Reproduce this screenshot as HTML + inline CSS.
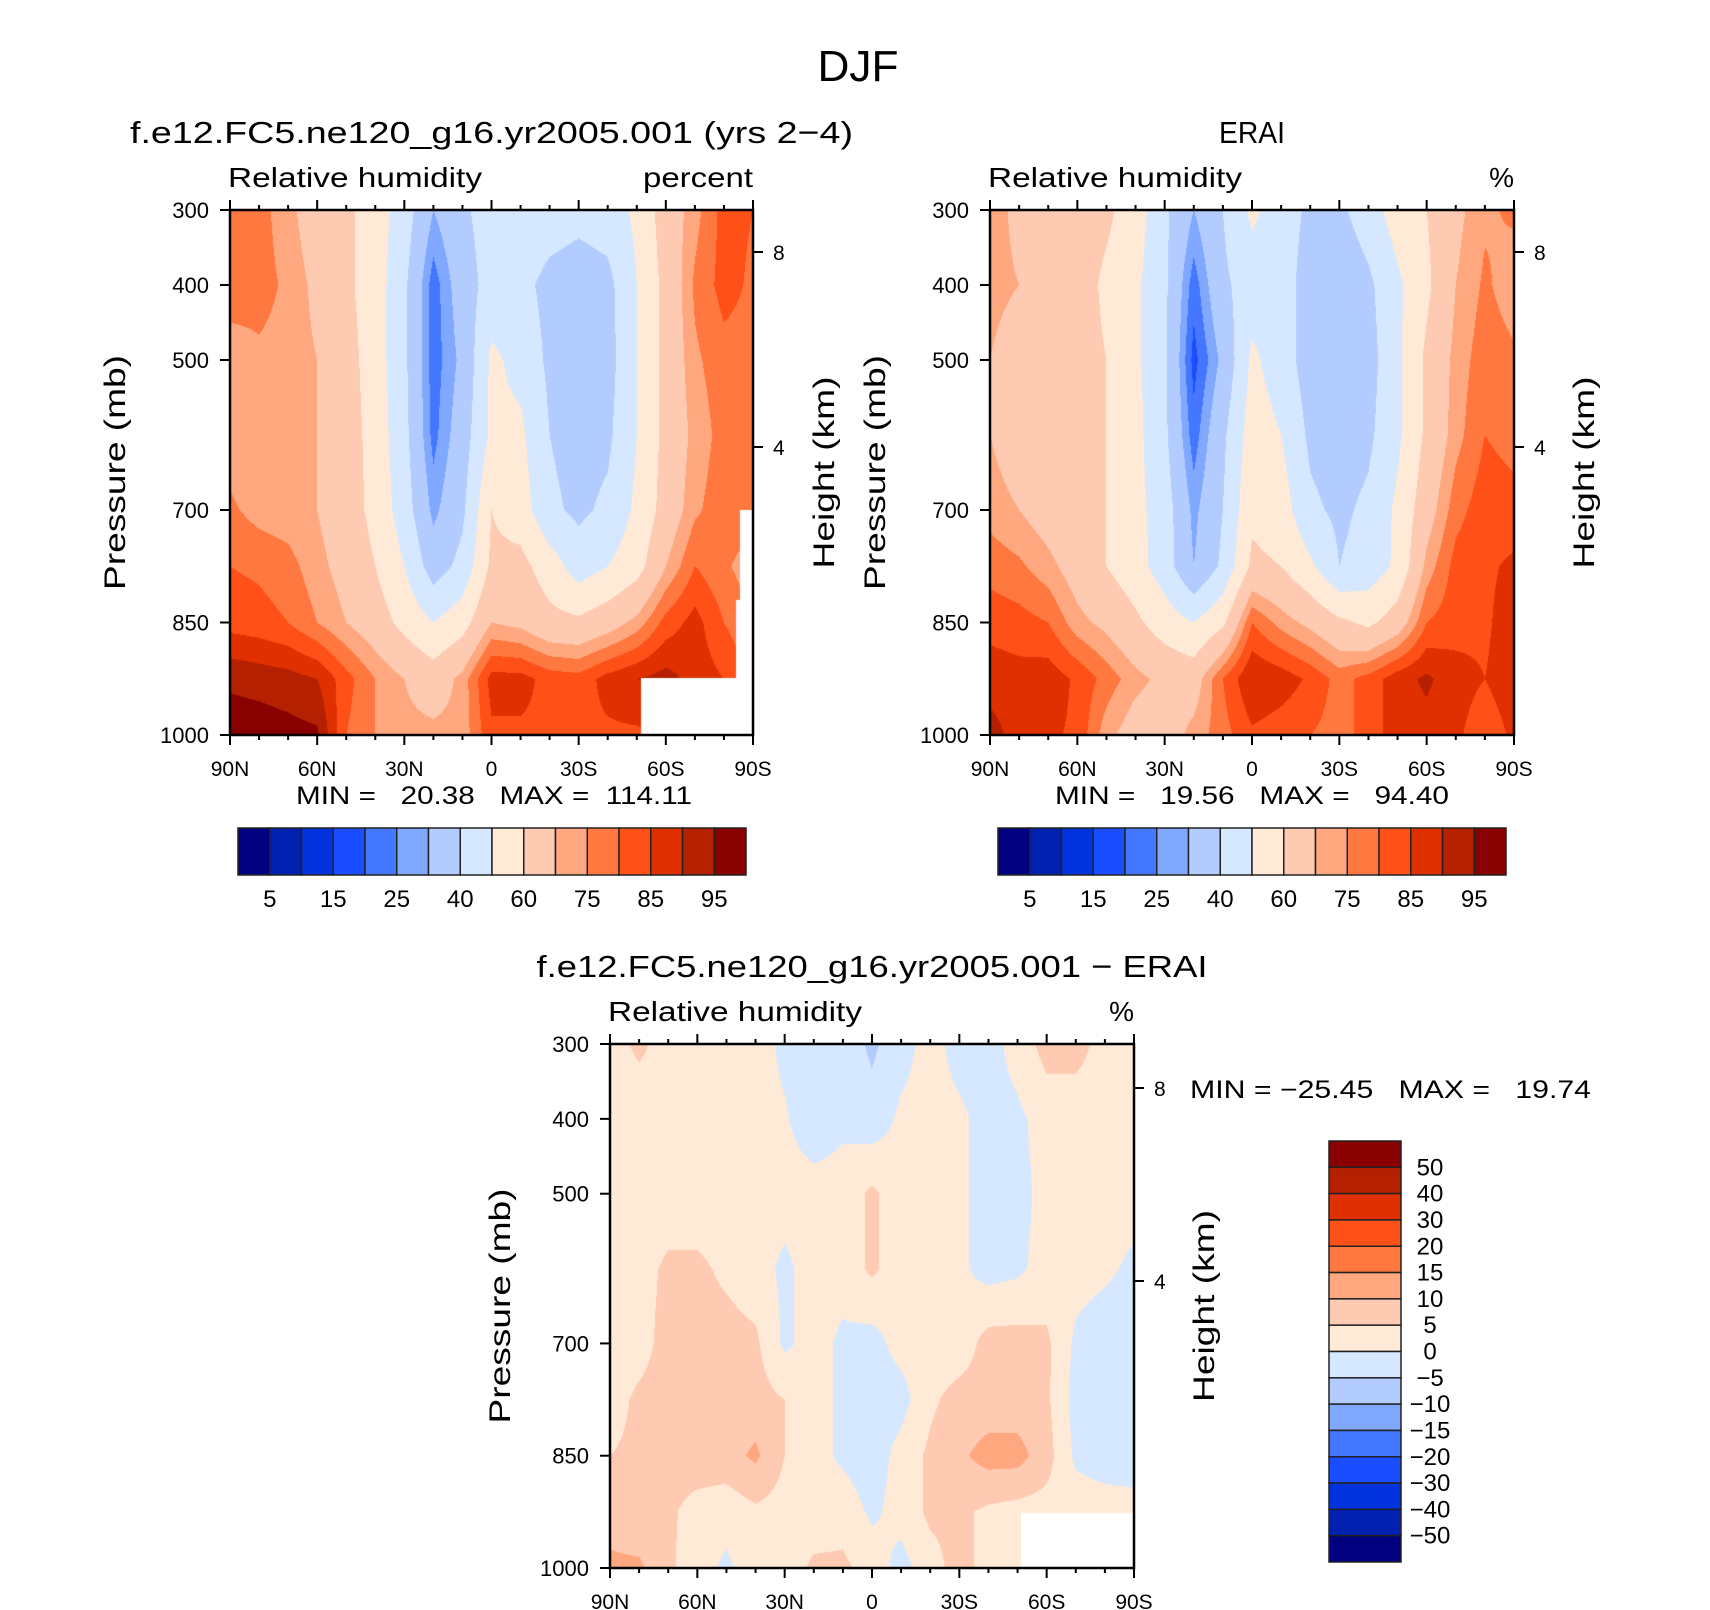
<!DOCTYPE html>
<html><head><meta charset="utf-8">
<style>
html,body{margin:0;padding:0;background:#fff;}
#root{position:relative;width:1710px;height:1610px;overflow:hidden;background:#fff;font-family:"Liberation Sans",sans-serif;}
canvas{position:absolute;}
svg{position:absolute;left:0;top:0;}
text{font-family:"Liberation Sans",sans-serif;fill:#000;white-space:pre;}
</style></head>
<body>
<div id="root">
<canvas id="c1"></canvas>
<canvas id="c2"></canvas>
<canvas id="c3"></canvas>
<svg id="svg" width="1710" height="1610"></svg>
</div>
<script>
// ---- data ----
const lats=[90,80,70,60,50,40,30,20,10,0,-10,-20,-30,-40,-50,-60,-70,-80,-90];
const plevs=[300,400,500,600,700,775,850,925,1000];
const absLevels=[5,10,15,20,25,30,40,50,60,70,75,80,85,90,95];
const absLabels=["5","15","25","40","60","75","85","95"];
const diffLevels=[-50,-40,-30,-20,-15,-10,-5,0,5,10,15,20,30,40,50];
const diffLabels=["50","40","30","20","15","10","5","0","\u22125","\u221210","\u221215","\u221220","\u221230","\u221240","\u221250"];
const colors=["#000080","#0020B0","#0033DD","#1A4DFF","#4477FF","#80A8FF","#B3CCFF","#D6E8FF","#FFEAD8","#FFCAB2","#FFA880","#FF7840","#FF5018","#E03000","#B42000","#880000"];
const modelRH=[
[78,77,72,65,62,55,45,30,38,45,47,45,43,45,52,65,73,82,80],
[78,77,74,68,62,55,42,22,35,44,43,37,35,37,50,63,76,82,79],
[72,74,73,70,64,55,42,22,32,52,47,38,36,36,50,63,74,78,78],
[72,72,72,70,65,56,43,23,35,52,52,40,36,38,50,63,72,77,78],
[76,73,72,70,65,57,45,28,38,60,55,42,38,42,52,64,74,78,78],
[80,79,77,72,67,60,50,35,43,62,63,55,45,50,56,70,80,76,72],
[83,82,80,75,70,65,57,50,56,70,68,63,62,66,72,82,87,80,75],
[94,93,92,90,82,75,70,65,72,87,87,83,82,87,90,92,88,85,80],
[98,98,97,96,80,75,72,72,72,84,84,84,84,84,84,85,85,85,85]];
const eraiRH=[
[73,68,65,64,62,55,42,30,40,52,45,38,38,45,55,60,68,74,76],
[72,70,68,65,58,52,42,22,38,45,45,35,33,38,48,58,70,76,72],
[70,66,65,64,60,52,42,18,32,52,45,35,33,36,48,62,72,78,76],
[70,65,64,63,60,53,42,22,38,55,50,38,35,38,48,62,73,80,78],
[73,70,66,64,60,53,45,28,40,58,55,42,38,42,52,66,78,83,82],
[78,76,72,66,60,54,45,30,42,62,60,52,40,44,52,72,82,84,86],
[83,82,80,72,68,62,55,50,58,80,73,68,62,58,65,80,83,84,88],
[88,87,88,84,78,72,68,66,80,90,88,84,78,82,88,91,87,85,88],
[92,88,86,84,72,66,66,72,78,84,82,80,78,82,88,88,86,82,86]];
const diffRH=[
[3,6,3,2,2,2,-1,-2,-2,-6,-2,2,-2,-2,2,7,7,3,2],
[2,2,2,2,2,1,0.5,-3,-1,-3,1,2,1,-2,-1,2,2,2,2],
[2,2,2,2,2,2,2,2,2,6,2,2,1,-2,-2,2,2,2,2],
[2,3,6,6,4,2,-1,2,2,6,2,2,1,-2,-1,2,2,1,-1],
[2,3,7,7,7,6,-1,2,-1,-2,2,2,2,7,7,6,-1,-3,-4],
[3,6,7,7,7,7,5,2,-1,-3,-2,4,7,7,7,6,-2,-5,-5],
[5,6,7,8,8,11,5,2,-1,-3,2,6,9,12,12,7,-1,-3,-4],
[8,6,6,3,2,4,3,2,3,-1,2,6,6,4,3,3,3,3,3],
[11,11,6,2,-1,3,2,6,6,3,-2,3,7,3,3,3,3,3,3]];
const pTicks=[300,400,500,700,850,1000];
const latTicks=[90,60,30,0,-30,-60,-90];
const latTickLabels=["90N","60N","30N","0","30S","60S","90S"];
const hTicks=[8,4];

// ---- helpers ----
function hexRgb(h){return [parseInt(h.substr(1,2),16),parseInt(h.substr(3,2),16),parseInt(h.substr(5,2),16)];}
const rgbs=colors.map(hexRgb);
function bin(v,lv){let i=0;while(i<lv.length&&v>=lv[i])i++;return i;}
function sample(grid,lat,p){
  let fi=(90-lat)/10; let i0=Math.min(17,Math.max(0,Math.floor(fi))); let tx=fi-i0;
  let j0=0; while(j0<plevs.length-2&&p>plevs[j0+1])j0++;
  let ty=(p-plevs[j0])/(plevs[j0+1]-plevs[j0]);
  const a=grid[j0][i0],b=grid[j0][i0+1],c=grid[j0+1][i0],d=grid[j0+1][i0+1];
  return (a*(1-tx)+b*tx)*(1-ty)+(c*(1-tx)+d*tx)*ty;
}
function drawField(id,P,grid,lv,holes){
  const cv=document.getElementById(id);
  const w=Math.round(P.x1-P.x0),h=Math.round(P.y1-P.y0);
  cv.width=w;cv.height=h;cv.style.left=P.x0+'px';cv.style.top=P.y0+'px';
  const ctx=cv.getContext('2d');const im=ctx.createImageData(w,h);
  for(let y=0;y<h;y++){const p=300+(y+0.5)/h*700;
    for(let x=0;x<w;x++){const lat=90-(x+0.5)/w*180;
      const c=rgbs[bin(sample(grid,lat,p),lv)];const k=(y*w+x)*4;
      im.data[k]=c[0];im.data[k+1]=c[1];im.data[k+2]=c[2];im.data[k+3]=255;}}
  ctx.putImageData(im,0,0);
  ctx.fillStyle='#fff';
  holes.forEach(r=>ctx.fillRect(r[0]-P.x0,r[1]-P.y0,r[2],r[3]));
}
const NS='http://www.w3.org/2000/svg';
const svg=document.getElementById('svg');
function el(tag,attrs,txt){const e=document.createElementNS(NS,tag);for(const k in attrs)e.setAttribute(k,attrs[k]);if(txt!==undefined)e.textContent=txt;svg.appendChild(e);return e;}
function line(x1,y1,x2,y2,w){return el('line',{x1:x1,y1:y1,x2:x2,y2:y2,stroke:'#000','stroke-width':w||2});}
function fit(e,len){e.setAttribute('textLength',len);e.setAttribute('lengthAdjust','spacingAndGlyphs');return e;}

function axes(P,opt){
  const X=lat=>P.x0+(90-lat)/180*(P.x1-P.x0);
  const Y=p=>P.y0+(p-300)/700*(P.y1-P.y0);
  const fr=el('rect',{x:P.x0,y:P.y0,width:P.x1-P.x0,height:P.y1-P.y0,fill:'none',stroke:'#000','stroke-width':2.5});
  
  for(let lat=90;lat>=-90;lat-=10){const major=lat%30===0;const L=major?10:5;
    line(X(lat),P.y0,X(lat),P.y0-L);line(X(lat),P.y1,X(lat),P.y1+L);}
  latTicks.forEach((lat,i)=>{const t=el('text',{x:X(lat),y:P.y1+41,'font-size':21,'text-anchor':'middle'},latTickLabels[i]);
    });
  pTicks.forEach(p=>{line(P.x0,Y(p),P.x0-10,Y(p));
    const t=el('text',{x:P.x0-21,y:Y(p)+8,'font-size':22,'text-anchor':'end'},String(p));
    });
  opt.hy.forEach((y,i)=>{line(P.x1,y,P.x1+10,y);
    const t=el('text',{x:P.x1+20,y:y+8,'font-size':21},String(hTicks[i]));
    });
  const yc=(P.y0+P.y1)/2;
  let t=el('text',{x:0,y:0,'font-size':30,'text-anchor':'middle',transform:`translate(${opt.plx},${yc}) rotate(-90)`},'Pressure (mb)');
  fit(t,235);
  
  t=el('text',{x:0,y:0,'font-size':30,'text-anchor':'middle',transform:`translate(${opt.hlx},${yc}) rotate(-90)`},'Height (km)');
  fit(t,192);
  
  t=el('text',{x:P.x0-2,y:P.y0-23,'font-size':28},'Relative humidity');
  fit(t,254);
  
  t=el('text',{x:P.x1,y:P.y0-23,'font-size':28,'text-anchor':'end'},opt.unit);
  if(opt.unit==='percent')fit(t,110);
  
  t=el('text',{x:(P.x0+P.x1)/2,y:P.y0-67,'font-size':31,'text-anchor':'middle'},opt.title);
  fit(t,opt.tlen);
  
}
function hbar(x0,x1,y0,y1,pre){
  const w=(x1-x0)/16;
  colors.forEach((c,i)=>{const r=el('rect',{x:x0+i*w,y:y0,width:w,height:y1-y0,fill:c,stroke:'#222','stroke-width':1.5});
    });
  absLabels.forEach((s,k)=>{const t=el('text',{x:x0+(2*k+1)*w,y:y1+32,'font-size':24,'text-anchor':'middle'},s);
    });
}

// ---- plots ----
const P1={x0:230,x1:753,y0:210,y1:735};
const P2={x0:990,x1:1514,y0:210,y1:735};
const P3={x0:610,x1:1134,y0:1044,y1:1568};
drawField('c1',P1,modelRH,absLevels,[[641,678,112,57],[740,510,13,225],[736,600,17,135]]);
drawField('c2',P2,eraiRH,absLevels,[]);
drawField('c3',P3,diffRH,diffLevels,[[1021,1513,113,55]]);

let t=el('text',{x:858,y:81,'font-size':44,'text-anchor':'middle'},'DJF');
fit(t,81);


axes(P1,{pre:'model',title:'f.e12.FC5.ne120_g16.yr2005.001 (yrs 2\u22124)',tlen:723,unit:'percent',hy:[252,447],plx:125,hlx:834});
axes(P2,{pre:'erai',title:'ERAI',tlen:66,unit:'%',hy:[252,447],plx:885,hlx:1594});
axes(P3,{pre:'diff',title:'f.e12.FC5.ne120_g16.yr2005.001 \u2212 ERAI',tlen:671,unit:'%',hy:[1088,1281],plx:510,hlx:1214});

t=el('text',{x:296,y:804,'font-size':25},'MIN =   20.38   MAX =  114.11');
fit(t,396);

t=el('text',{x:1055,y:804,'font-size':25},'MIN =   19.56   MAX =   94.40');
fit(t,394);

t=el('text',{x:1190,y:1098,'font-size':25},'MIN = \u221225.45   MAX =   19.74');
fit(t,401);


hbar(238,746,828,875,'model');
hbar(998,1506,828,875,'erai');

// vertical diff colorbar (top = highest)
const vb={x0:1329,x1:1401,y0:1141,y1:1562};
const vh=(vb.y1-vb.y0)/16;
colors.slice().reverse().forEach((c,i)=>{const r=el('rect',{x:vb.x0,y:vb.y0+i*vh,width:vb.x1-vb.x0,height:vh,fill:c,stroke:'#222','stroke-width':1.5});
  });
diffLabels.forEach((s,k)=>{const t=el('text',{x:1430,y:vb.y0+(k+1)*vh+8,'font-size':24,'text-anchor':'middle'},s);
  });
</script>
</body></html>
